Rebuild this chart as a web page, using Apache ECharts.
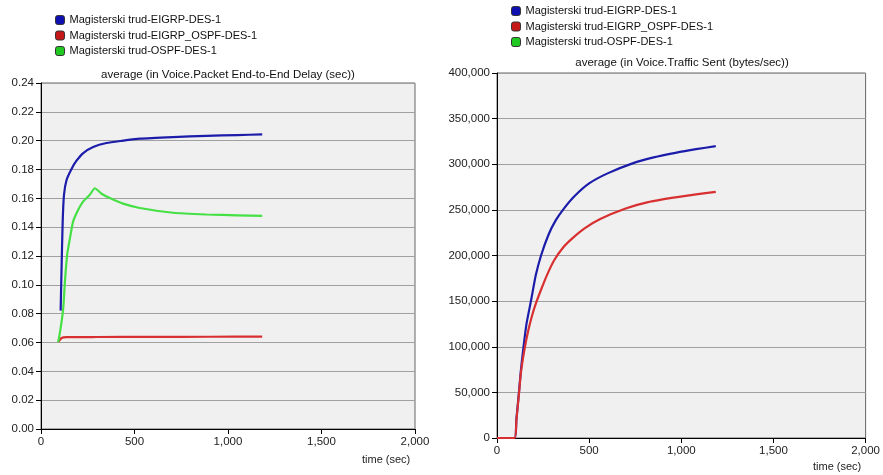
<!DOCTYPE html>
<html>
<head>
<meta charset="utf-8">
<script src="https://cdn.jsdelivr.net/npm/echarts@6/dist/echarts.min.js"></script>
<style>
html,body{margin:0;padding:0;background:#fff;}
#c{width:883px;height:475px;}
</style>
</head>
<body>
<div id="c"></div>
<script>
// ---- Data ----
var seriesNames = ['Magisterski trud-EIGRP-DES-1', 'Magisterski trud-EIGRP_OSPF-DES-1', 'Magisterski trud-OSPF-DES-1'];
var leftTitle = 'average (in Voice.Packet End-to-End Delay (sec))';
var rightTitle = 'average (in Voice.Traffic Sent (bytes/sec))';
var xLabel = 'time (sec)';

// Left chart: Packet End-to-End Delay (sec)
var delayEigrpT = [105, 110, 116, 123, 137, 164, 190, 226, 279, 350, 439, 528, 706, 884, 1050, 1183];
var delayEigrpV = [0.0821, 0.1117, 0.1440, 0.1625, 0.1729, 0.1806, 0.1861, 0.1914, 0.1956, 0.1984, 0.2000, 0.2014, 0.2025, 0.2033, 0.2039, 0.2043];

var delayMixT = [92, 110, 137, 300, 600, 900, 1183];
var delayMixV = [0.0602, 0.0631, 0.0637, 0.0638, 0.0639, 0.0640, 0.0641];

var delayOspfT = [92, 105, 119, 128, 140, 155, 172, 199, 226, 261, 288, 324, 368, 439, 528, 706, 884, 1050, 1183];
var delayOspfV = [0.0602, 0.0700, 0.0839, 0.1024, 0.1209, 0.1325, 0.1440, 0.1521, 0.1579, 0.1625, 0.1670, 0.1632, 0.1602, 0.1563, 0.1533, 0.1500, 0.1488, 0.1482, 0.1478];

// Right chart: Traffic Sent (bytes/sec)
var trafficEigrpT = [0, 95, 105, 119, 130, 144, 160, 186, 210, 239, 280, 320, 365, 420, 500, 600, 743, 850, 968, 1080, 1187];
var trafficEigrpV = [0, 0, 20000, 50000, 75000, 100000, 125000, 152000, 178000, 200000, 223000, 239000, 252000, 265000, 279000, 290000, 301500, 307500, 312500, 316500, 319800];

var trafficMixT = [0, 95, 105, 119, 130, 150, 170, 190, 212, 240, 270, 311, 360, 410, 473, 560, 698, 820, 968, 1080, 1187];
var trafficMixV = [0, 0, 19000, 48000, 72000, 98000, 118000, 134000, 148000, 163000, 178000, 195000, 209000, 219000, 229500, 240000, 251500, 258500, 263700, 267000, 269800];

// ---- Build ----
function pairs(t, v) { return t.map(function (x, i) { return [x, v[i]]; }); }
function commas(n) { return String(Math.round(n)).replace(/\B(?=(\d{3})+(?!\d))/g, ','); }

var lineColors = ['#1c1cab', '#d83030', '#44e044'];
var iconColors = ['#1010b0', '#c41818', '#22c822'];
var font = 'Liberation Sans, Arial, sans-serif';

function legendFor(left, top) {
  return {
    orient: 'vertical', left: left, top: top, padding: 0,
    itemWidth: 9, itemHeight: 9, itemGap: 3.5,
    icon: 'roundRect',
    textStyle: { fontFamily: font, fontSize: 11, color: '#111', lineHeight: 12 },
    data: seriesNames.map(function (n, i) {
      return { name: n, itemStyle: { color: iconColors[i], borderColor: '#333', borderWidth: 1 } };
    }),
    selectedMode: false
  };
}

function xAxisFor(gi) {
  return {
    type: 'value', gridIndex: gi, min: 0, max: 2000, interval: 500,
    axisLine: { show: true, lineStyle: { color: '#000', width: 1 } },
    axisTick: { show: true, length: 5, lineStyle: { color: '#000' } },
    axisLabel: { fontFamily: font, fontSize: 11.5, color: '#222', margin: 7, formatter: commas },
    splitLine: { show: false }
  };
}

function yAxisFor(gi, max, interval, fmt) {
  return {
    type: 'value', gridIndex: gi, min: 0, max: max, interval: interval,
    axisLine: { show: true, lineStyle: { color: '#000' } },
    axisTick: { show: true, length: 5, lineStyle: { color: '#000' } },
    axisLabel: { fontFamily: font, fontSize: 11.5, color: '#222', margin: 7, formatter: fmt },
    splitLine: { show: true, lineStyle: { color: '#a0a0a0', width: 1 } }
  };
}

function lineSeries(i, gi, data) {
  return {
    name: seriesNames[i], type: 'line', xAxisIndex: gi, yAxisIndex: gi,
    showSymbol: false, smooth: 0.2, data: data,
    lineStyle: { color: lineColors[i], width: 2.2 }, itemStyle: { color: lineColors[i] }
  };
}

var option = {
  animation: false,
  backgroundColor: '#fff',
  textStyle: { fontFamily: font },
  title: [
    { text: leftTitle, left: 228, top: 69, textAlign: 'center', padding: 0,
      textStyle: { fontFamily: font, fontSize: 11.5, fontWeight: 'normal', color: '#111' } },
    { text: rightTitle, left: 682, top: 57, textAlign: 'center', padding: 0,
      textStyle: { fontFamily: font, fontSize: 11.5, fontWeight: 'normal', color: '#111' } }
  ],
  legend: [legendFor(55, 14), legendFor(511, 5)],
  grid: [
    { left: 41, top: 83, width: 374, height: 346, show: true, backgroundColor: '#f0f0f0', borderColor: '#666', borderWidth: 1 },
    { left: 497, top: 73, width: 371, height: 365, show: true, backgroundColor: '#f0f0f0', borderColor: '#666', borderWidth: 1 }
  ],
  xAxis: [xAxisFor(0), xAxisFor(1)],
  yAxis: [
    yAxisFor(0, 0.24, 0.02, function (v) { return v.toFixed(2); }),
    yAxisFor(1, 400000, 50000, commas)
  ],
  graphic: [
    { type: 'text', left: 362, top: 454, style: { text: xLabel, font: '11px ' + font, fill: '#222' } },
    { type: 'text', left: 813, top: 461, style: { text: xLabel, font: '11px ' + font, fill: '#222' } }
  ],
  series: [
    lineSeries(0, 0, pairs(delayEigrpT, delayEigrpV)),
    lineSeries(1, 0, pairs(delayMixT, delayMixV)),
    lineSeries(2, 0, pairs(delayOspfT, delayOspfV)),
    lineSeries(0, 1, pairs(trafficEigrpT, trafficEigrpV)),
    lineSeries(1, 1, pairs(trafficMixT, trafficMixV)),
    lineSeries(2, 1, [])
  ]
};

var chart = echarts.init(document.getElementById('c'), null, { renderer: 'canvas' });
chart.setOption(option);
</script>
</body>
</html>
